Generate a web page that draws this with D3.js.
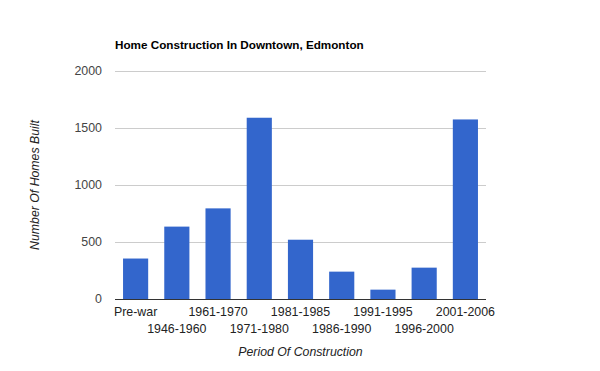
<!DOCTYPE html>
<html>
<head>
<meta charset="utf-8">
<script src="https://cdn.jsdelivr.net/npm/d3@7"></script>
<style>
  body { margin: 0; background: #fff; }
  text { font-family: "Liberation Sans", Arial, sans-serif; }
</style>
</head>
<body>
<div id="chart"></div>
<script>
const periods = ["Pre-war", "1946-1960", "1961-1970", "1971-1980", "1981-1985",
  "1986-1990", "1991-1995", "1996-2000", "2001-2006"];
const homesBuilt = [355, 635, 795, 1590, 520, 240, 82, 275, 1575];
const yTicks = [0, 500, 1000, 1500, 2000];

function init() {
  const margin = { top: 71, right: 114, bottom: 72, left: 115 };
  const w = 600 - margin.left - margin.right;
  const h = 371 - margin.top - margin.bottom;

  const svg = d3.select("#chart").append("svg")
    .attr("width", 600).attr("height", 371)
    .append("g")
    .attr("transform", "translate(" + margin.left + "," + margin.top + ")");

  const xScale = d3.scaleBand().domain(periods).range([0, w])
    .paddingInner(0.39).paddingOuter(0.195);
  const yScale = d3.scaleLinear().domain([0, 2000]).range([h, 0]);

  // gridlines
  svg.selectAll(".grid").data(yTicks.slice(1)).enter().append("line")
    .attr("x1", 0).attr("x2", w)
    .attr("y1", d => yScale(d) + 0.5).attr("y2", d => yScale(d) + 0.5)
    .attr("stroke", "#cccccc");

  // y labels
  svg.selectAll(".ylab").data(yTicks).enter().append("text")
    .attr("x", -13).attr("y", d => yScale(d))
    .attr("dy", "0.35em")
    .attr("text-anchor", "end")
    .style("font-size", "12.4px").style("fill", "#444")
    .text(d => d);

  // bars
  svg.selectAll(".bar").data(periods).enter().append("rect")
    .attr("x", d => xScale(d))
    .attr("width", xScale.bandwidth())
    .attr("y", (d, i) => yScale(homesBuilt[i]))
    .attr("height", (d, i) => h - yScale(homesBuilt[i]))
    .attr("fill", "#3366cc");

  // baseline
  svg.append("line")
    .attr("x1", 0).attr("x2", w)
    .attr("y1", h + 0.5).attr("y2", h + 0.5)
    .attr("stroke", "#333");

  // x labels, staggered
  svg.selectAll(".xlab").data(periods).enter().append("text")
    .attr("x", d => xScale(d) + xScale.bandwidth() / 2)
    .attr("y", (d, i) => h + (i % 2 === 0 ? 17 : 34))
    .attr("text-anchor", "middle")
    .style("font-size", "12.4px").style("fill", "#222")
    .text(d => d);

  // title
  svg.append("text")
    .attr("x", 0).attr("y", -22)
    .style("font-size", "11.7px").style("font-weight", "bold")
    .style("fill", "#000")
    .text("Home Construction In Downtown, Edmonton");

  // x axis title
  svg.append("text")
    .attr("x", w / 2).attr("y", h + 57)
    .attr("text-anchor", "middle")
    .style("font-size", "12.3px").style("font-style", "italic").style("fill", "#222")
    .text("Period Of Construction");

  // y axis title
  svg.append("text")
    .attr("transform", "rotate(-90)")
    .attr("x", -h / 2).attr("y", -76)
    .attr("text-anchor", "middle")
    .style("font-size", "12.3px").style("font-style", "italic").style("fill", "#222")
    .text("Number Of Homes Built");
}

window.onload = init;
</script>
</body>
</html>
